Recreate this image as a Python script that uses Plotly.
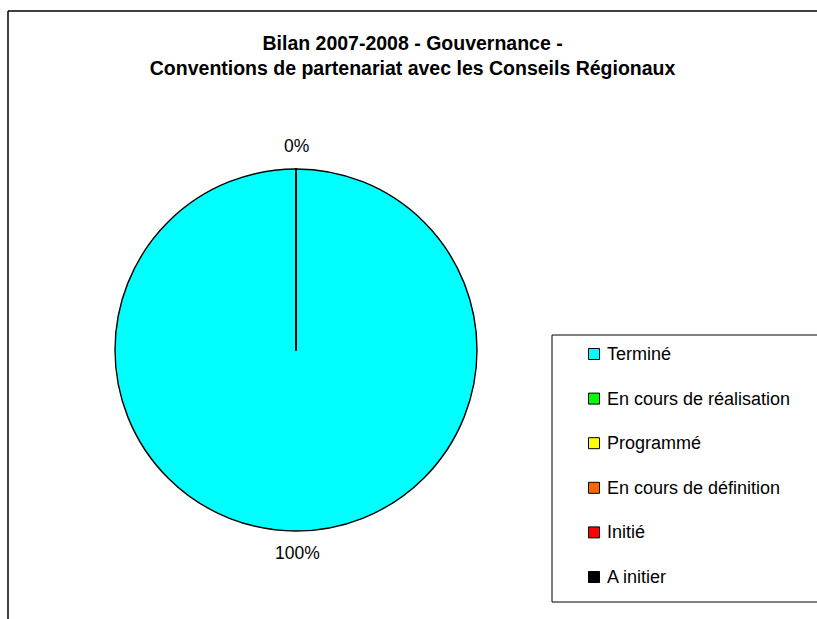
import plotly.graph_objects as go

W, H = 817, 619

labels = ["Terminé", "En cours de réalisation", "Programmé",
          "En cours de définition", "Initié", "A initier"]
values = [100, 0, 0, 0, 0, 0]
colors = ["#00FFFF", "#00FF00", "#FFFF00", "#FF6600", "#FF0000", "#000000"]

title = ("<b>Bilan 2007-2008 - Gouvernance -<br>"
         "Conventions de partenariat avec les Conseils Régionaux</b>")

FONT = "Liberation Sans, Arial"


def px(x):
    return x / W


def py(y):
    return 1 - y / H


total = sum(values)
pct_full = f"{values[0] / total:.0%}"
pct_zero = f"{values[1] / total:.0%}"

fig = go.Figure()

fig.add_trace(go.Pie(
    labels=labels,
    values=values,
    sort=False,
    direction="clockwise",
    rotation=0,
    marker=dict(colors=colors, line=dict(color="black", width=1.4)),
    textinfo="none",
    domain=dict(x=[px(115), px(477)], y=[py(531), py(169)]),
    showlegend=False,
    hoverinfo="label+percent",
))

shapes = [
    # chart frame (right/bottom edges fall outside the window)
    dict(type="line", xref="paper", yref="paper", x0=px(8), x1=px(8), y0=py(11), y1=py(640),
         line=dict(color="black", width=1.5)),
    dict(type="line", xref="paper", yref="paper", x0=px(8), x1=px(840), y0=py(11), y1=py(11),
         line=dict(color="black", width=1.5)),
    # legend box
    dict(type="rect", xref="paper", yref="paper", x0=px(552), x1=px(840), y0=py(602), y1=py(335),
         line=dict(color="black", width=1), fillcolor="white"),
]

annotations = [
    dict(text=pct_zero, xref="paper", yref="paper", x=px(296), y=py(146),
         xanchor="center", yanchor="middle", showarrow=False,
         font=dict(family=FONT, size=17.5, color="black")),
    dict(text=pct_full, xref="paper", yref="paper", x=px(297), y=py(553),
         xanchor="center", yanchor="middle", showarrow=False,
         font=dict(family=FONT, size=17.5, color="black")),
]

row0, step = 354, 44.6
for i, (lab, col) in enumerate(zip(labels, colors)):
    yc = row0 + i * step
    shapes.append(dict(type="rect", xref="paper", yref="paper",
                       x0=px(588.5), x1=px(599.5), y0=py(yc + 5.5), y1=py(yc - 5.5),
                       line=dict(color="black", width=1), fillcolor=col))
    annotations.append(dict(text=lab, xref="paper", yref="paper", x=px(605), y=py(yc),
                            xanchor="left", yanchor="middle", showarrow=False,
                            font=dict(family=FONT, size=18, color="black")))

fig.update_layout(
    width=W, height=H,
    margin=dict(l=0, r=0, t=0, b=0),
    paper_bgcolor="white",
    plot_bgcolor="white",
    title=dict(text=title, x=0.505, xanchor="center", y=py(50), yanchor="middle",
               font=dict(family=FONT, size=19.5, color="black")),
    shapes=shapes,
    annotations=annotations,
)

fig.write_html("out.html", config={"displayModeBar": False},
               post_script="document.body.style.margin='0';")
